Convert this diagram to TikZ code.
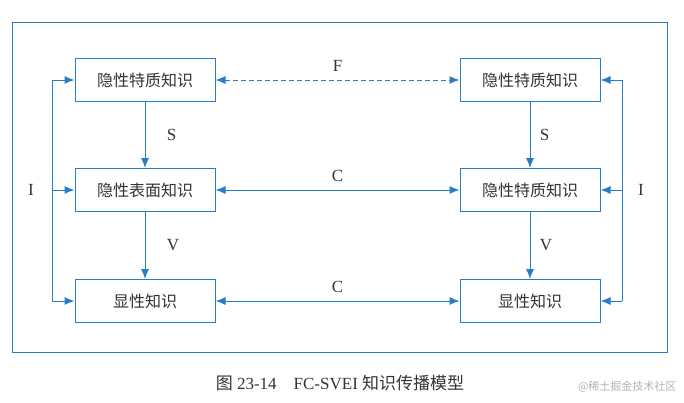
\documentclass[tikz,border=0pt]{standalone}
\usepackage{fontspec}
\usetikzlibrary{arrows.meta}
\setmainfont{Liberation Serif}
\newfontfamily\cjk{Noto Sans CJK SC}
\definecolor{lblue}{RGB}{40,125,200}
\begin{document}
\begin{tikzpicture}[x=1pt,y=-1pt,
  ln/.style={draw=lblue, line width=1pt},
  box/.style={ln, fill=white, minimum width=140pt, minimum height=43pt, inner sep=0pt, font=\cjk\fontsize{16}{16}\selectfont, text=black!80},
  arr/.style={ln, -{Latex[length=10pt,width=8pt]}},
  darr/.style={ln, {Latex[length=10pt,width=8pt]}-{Latex[length=10pt,width=8pt]}},
  lab/.style={font=\fontsize{17}{17}\selectfont, text=black!80}]
\useasboundingbox (0,0) rectangle (684,402);
\draw[ln] (12,22) rectangle (667,352);
\node[box] (l1) at (145,80) {隐性特质知识};
\node[box] (l2) at (145,190) {隐性表面知识};
\node[box] (l3) at (145,301) {显性知识};
\node[box] (r1) at (530,80) {隐性特质知识};
\node[box] (r2) at (530,190) {隐性特质知识};
\node[box] (r3) at (530,301) {显性知识};
\draw[darr, dash pattern=on 5pt off 3pt] (l1) -- node[lab, above=5pt] {F} (r1);
\draw[darr] (l2) -- node[lab, above=5pt] {C} (r2);
\draw[darr] (l3) -- node[lab, above=5pt] {C} (r3);
\draw[arr] (l1) -- node[lab, right=18pt] {S} (l2);
\draw[arr] (l2) -- node[lab, right=18pt] {V} (l3);
\draw[arr] (r1) -- node[lab, right=6pt] {S} (r2);
\draw[arr] (r2) -- node[lab, right=6pt] {V} (r3);
\coordinate (lt) at (52,80); \coordinate (lb) at (52,301);
\coordinate (rt) at (622,80); \coordinate (rb) at (622,301);
\draw[ln] (lt) -- (lb);
\draw[ln] (rt) -- (rb);
\draw[arr] (lt) -- (l1.west);
\draw[arr] (52,190) -- (l2.west);
\draw[arr] (lb) -- (l3.west);
\draw[arr] (rt) -- (r1.east);
\draw[arr] (622,190) -- (r2.east);
\draw[arr] (rb) -- (r3.east);
\node[lab] (il) at (31,190) {I};
\node[lab] (ir) at (641,190) {I};
\node[font=\fontsize{17}{17}\selectfont, text=black!80] (cap) at (340,383) {{\cjk 图} 23-14\quad FC-SVEI {\cjk 知识传播模型}};
\node[font=\cjk\fontsize{11}{11}\selectfont, text=gray!60, anchor=east] (wm) at (680,387) {@稀土掘金技术社区};
\end{tikzpicture}
\end{document}
